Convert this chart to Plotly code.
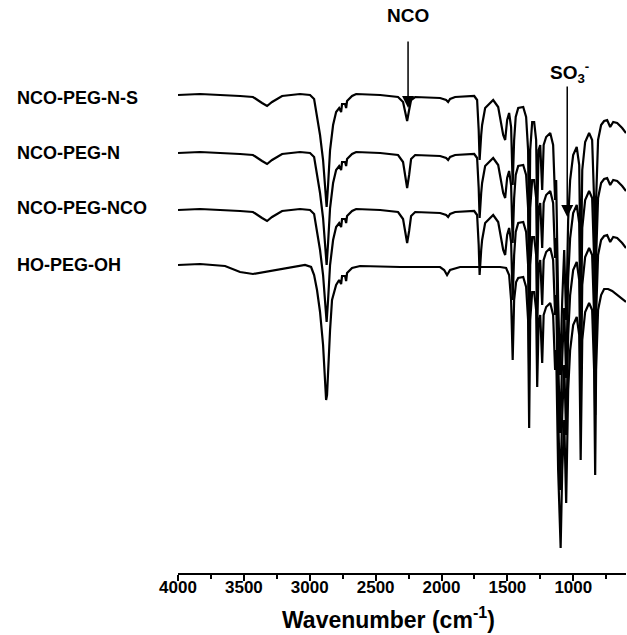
import plotly.graph_objects as go

# Wavenumbers (cm-1) shared by the three NCO-terminated spectra
wn_nco = [4000, 3833, 3529, 3431, 3362, 3324, 3286, 3210, 3074, 2998,
          2967, 2945, 2922, 2899, 2884, 2872, 2861, 2846, 2823, 2800,
          2777, 2762, 2755, 2732, 2724, 2717, 2679, 2648, 2466, 2330,
          2292, 2276, 2261, 2246, 2231, 2200, 2011, 1965, 1950, 1935,
          1897, 1752, 1730, 1718, 1711, 1699, 1692, 1669, 1608, 1570,
          1532, 1517, 1502, 1487, 1472, 1460, 1449, 1437, 1418, 1380,
          1358, 1343, 1335, 1327, 1312, 1297, 1282, 1274, 1263, 1251,
          1236, 1225, 1206, 1175, 1153, 1138, 1130, 1115, 1100, 1084,
          1069, 1054, 1039, 1024, 1001, 974, 955, 944, 932, 910,
          880, 857, 842, 834, 827, 812, 789, 766, 743, 720,
          697, 667, 629, 600]

# Transmittance (a.u., offset stacked)
t_nco_peg_n_s = [478, 479, 477, 476, 470, 467, 471, 477, 479, 478,
                 474, 458, 438, 413, 388, 366, 388, 423, 448, 461,
                 465, 461, 469, 469, 465, 472, 477, 479, 478, 476,
                 471, 461, 452, 463, 473, 476, 475, 473, 471, 474,
                 476, 477, 473, 443, 413, 438, 448, 465, 473, 466,
                 438, 433, 453, 460, 446, 388, 433, 456, 465, 466,
                 456, 423, 318, 423, 451, 451, 433, 358, 423, 428,
                 383, 428, 436, 440, 428, 373, 393, 273, 198, 273,
                 323, 253, 353, 393, 418, 426, 408, 288, 403, 431,
                 440, 433, 373, 273, 373, 433, 448, 452, 453, 446,
                 451, 450, 445, 440]

t_nco_peg_n = [420, 421, 419, 418, 412, 409, 413, 419, 421, 420,
               416, 400, 380, 355, 330, 308, 330, 365, 390, 403,
               407, 403, 411, 411, 407, 414, 419, 421, 420, 418,
               411, 397, 385, 398, 414, 418, 417, 415, 413, 416,
               418, 419, 415, 385, 355, 380, 390, 407, 415, 408,
               380, 375, 395, 402, 388, 330, 375, 398, 407, 408,
               398, 365, 260, 365, 393, 393, 375, 300, 365, 370,
               325, 370, 378, 382, 370, 315, 335, 215, 140, 215,
               265, 195, 295, 335, 360, 368, 350, 230, 345, 373,
               382, 375, 315, 215, 315, 375, 390, 394, 395, 388,
               393, 392, 387, 382]

t_nco_peg_nco = [363, 364, 362, 361, 355, 352, 356, 362, 364, 363,
                 359, 343, 323, 298, 273, 251, 273, 308, 333, 346,
                 350, 346, 354, 354, 350, 357, 362, 364, 363, 361,
                 354, 340, 330, 342, 357, 361, 360, 358, 356, 359,
                 361, 362, 358, 328, 298, 323, 333, 350, 358, 351,
                 323, 318, 338, 345, 331, 273, 318, 341, 350, 351,
                 341, 308, 203, 308, 336, 336, 318, 243, 308, 313,
                 268, 313, 321, 325, 313, 258, 278, 158, 83, 158,
                 208, 138, 238, 278, 303, 311, 293, 173, 288, 316,
                 325, 318, 258, 158, 258, 318, 333, 337, 338, 331,
                 336, 335, 330, 325]

wn_ho = [4000, 3833, 3643, 3529, 3431, 3301, 3150, 3036, 2990, 2967,
         2945, 2922, 2899, 2884, 2876, 2869, 2861, 2846, 2831, 2800,
         2777, 2762, 2755, 2732, 2724, 2717, 2679, 2618, 2314, 2011,
         1980, 1958, 1935, 1859, 1555, 1510, 1487, 1472, 1460, 1449,
         1434, 1418, 1380, 1358, 1343, 1335, 1327, 1312, 1297, 1282,
         1274, 1263, 1251, 1236, 1225, 1206, 1175, 1153, 1138, 1130,
         1115, 1096, 1084, 1069, 1054, 1039, 1024, 1001, 974, 955,
         944, 932, 910, 880, 857, 842, 834, 827, 812, 789,
         766, 736, 705, 667, 629, 600]

t_ho_peg_oh = [308, 309, 307, 301, 299, 302, 306, 308, 306, 298,
               283, 261, 228, 193, 173, 178, 203, 243, 273, 288,
               293, 289, 297, 297, 292, 300, 305, 307, 306, 306,
               303, 298, 303, 306, 306, 305, 298, 273, 213, 273,
               291, 295, 296, 286, 253, 145, 253, 281, 281, 263,
               186, 253, 258, 210, 258, 266, 270, 258, 203, 223,
               103, 25, 103, 153, 70, 183, 223, 248, 256, 238,
               113, 233, 261, 270, 263, 203, 98, 203, 263, 278,
               284, 284, 282, 278, 274, 271]

series_names = ["NCO-PEG-N-S", "NCO-PEG-N", "NCO-PEG-NCO", "HO-PEG-OH"]
label_levels = [475, 420, 365, 308]

tick_vals = [4000, 3500, 3000, 2500, 2000, 1500, 1000]
tick_text = ["4000", "3500", "3000", "2500", "2000", "1500", "1000"]

fig = go.Figure()
line_style = dict(color="black", width=2.2)
for x, y, name in [(wn_nco, t_nco_peg_n_s, series_names[0]),
                   (wn_nco, t_nco_peg_n, series_names[1]),
                   (wn_nco, t_nco_peg_nco, series_names[2]),
                   (wn_ho, t_ho_peg_oh, series_names[3])]:
    fig.add_trace(go.Scatter(x=x, y=y, mode="lines", name=name,
                             line=line_style, showlegend=False))

font_face = "Liberation Sans, Arial, sans-serif"
annotations = []
for name, lvl in zip(series_names, label_levels):
    annotations.append(dict(x=-0.364, xref="paper", y=lvl, yref="y",
                            text="<b>" + name + "</b>", showarrow=False,
                            xanchor="left", yanchor="middle",
                            font=dict(family=font_face, size=18, color="black")))

# NCO marker
annotations.append(dict(x=2254, y=465, xref="x", yref="y", ax=2254, ay=533,
                        axref="x", ayref="y", text="", showarrow=True,
                        arrowhead=2, arrowsize=1.6, arrowwidth=1.5, arrowcolor="black"))
annotations.append(dict(x=2254, y=558, xref="x", yref="y", text="<b>NCO</b>",
                        showarrow=False, font=dict(family=font_face, size=19, color="black")))
# SO3- marker
annotations.append(dict(x=1046, y=356, xref="x", yref="y", ax=1046, ay=488,
                        axref="x", ayref="y", text="", showarrow=True,
                        arrowhead=2, arrowsize=1.6, arrowwidth=1.5, arrowcolor="black"))
annotations.append(dict(x=1030, y=501, xref="x", yref="y",
                        text="<b>SO<sub>3</sub><sup>-</sup></b>",
                        showarrow=False, font=dict(family=font_face, size=19, color="black")))
# x-axis title (placed slightly left of plot centre as in the reference)
annotations.append(dict(x=0.469, xref="paper", y=-0.0785, yref="paper",
                        text="<b>Wavenumber (cm<sup>-1</sup>)</b>", showarrow=False,
                        xanchor="center", yanchor="middle",
                        font=dict(family=font_face, size=23, color="black")))

fig.update_layout(
    width=627, height=635,
    margin=dict(l=178, r=1, t=0, b=62),
    paper_bgcolor="white", plot_bgcolor="white",
    annotations=annotations,
    xaxis=dict(range=[4000, 600], tickvals=tick_vals, ticktext=["<b>%s</b>" % t for t in tick_text],
               ticks="outside", ticklen=6, tickwidth=2, tickcolor="black",
               showline=True, linewidth=2, linecolor="black", showgrid=False, zeroline=False,
               ticklabelstandoff=-8,
               minor=dict(dtick=250, tick0=0, ticks="outside", ticklen=4, tickwidth=1.5, tickcolor="black"),
               tickfont=dict(family=font_face, size=17, color="black")),
    yaxis=dict(range=[0, 573], visible=False, showgrid=False, zeroline=False),
)

fig.write_html("out.html")
